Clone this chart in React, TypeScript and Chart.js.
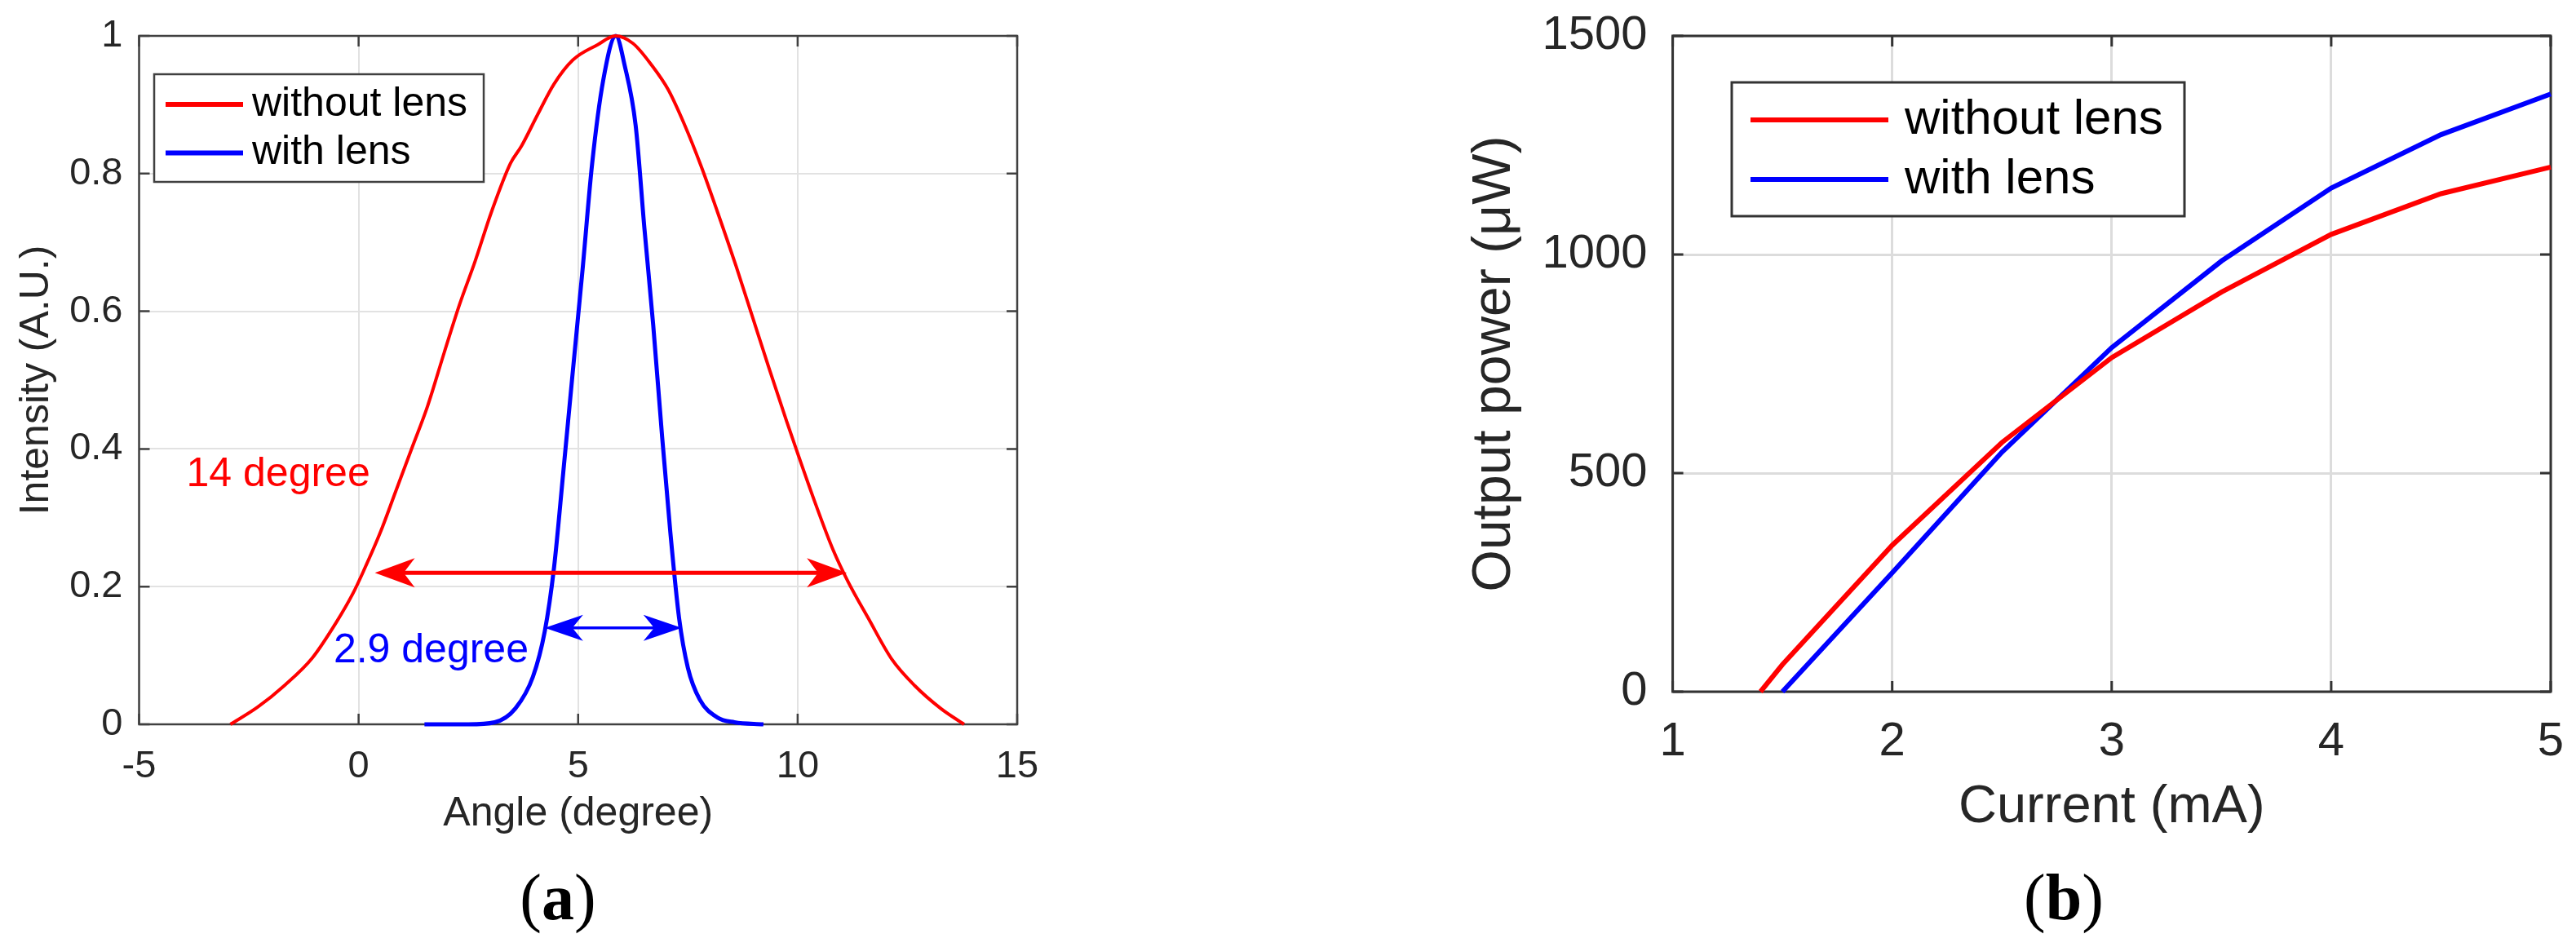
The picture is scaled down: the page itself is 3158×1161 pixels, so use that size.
import React, { useEffect, useRef } from "react";
import { Chart, registerables } from "chart.js";

Chart.register(...registerables);

// ---------------- Panel (a): angular intensity profile ----------------
const angleWithoutLens = [-2.92, -2.3, -1.68, -1.06, -0.51, -0.13, 0.115, 0.49, 0.86, 1.23, 1.57, 1.95, 2.3, 2.65, 3.03, 3.46, 3.71, 4.08, 4.45, 4.88, 5.44, 5.85, 6.25, 6.68, 7.05, 7.43, 7.8, 8.17, 8.6, 8.96, 9.36, 9.75, 10.02, 10.42, 10.81, 11.15, 11.61, 12.14, 12.67, 13.26, 13.79];
const intensityWithoutLens = [0, 0.025, 0.057, 0.096, 0.148, 0.19, 0.223, 0.278, 0.341, 0.404, 0.462, 0.54, 0.61, 0.672, 0.745, 0.815, 0.84, 0.886, 0.93, 0.965, 0.987, 1.0, 0.989, 0.957, 0.922, 0.87, 0.811, 0.745, 0.665, 0.594, 0.515, 0.44, 0.39, 0.318, 0.253, 0.207, 0.154, 0.095, 0.056, 0.023, 0];
const angleWithLens = [1.5, 2.5, 3.1, 3.57, 3.97, 4.24, 4.45, 4.66, 4.86, 5.1, 5.32, 5.57, 5.86, 6.06, 6.31, 6.51, 6.71, 6.91, 7.1, 7.3, 7.5, 7.77, 8.17, 8.56, 9.22];
const intensityWithLens = [0, 0, 0.003, 0.023, 0.069, 0.135, 0.227, 0.365, 0.5, 0.66, 0.815, 0.935, 1.0, 0.957, 0.87, 0.72, 0.58, 0.42, 0.279, 0.154, 0.082, 0.036, 0.01, 0.003, 0];
const angleTicks = [-5, 0, 5, 10, 15];
const intensityTicks = [0, 0.2, 0.4, 0.6, 0.8, 1];

// FWHM annotations (data coordinates)
const fwhmWithoutLens = { label: "14 degree", y: 0.22, from: 0.37, to: 11.12, labelX: -1.83, labelY: 0.346 };
const fwhmWithLens = { label: "2.9 degree", y: 0.14, from: 4.24, to: 7.36, labelX: 1.65, labelY: 0.09 };

// ---------------- Panel (b): L-I curve ----------------
const currentWithoutLens = [1.4, 1.5, 2, 2.5, 3, 3.5, 4, 4.5, 5];
const powerWithoutLens = [0, 62, 335, 570, 764, 914, 1046, 1139, 1200];
const currentWithLens = [1.5, 2, 2.5, 3, 3.5, 4, 4.5, 5];
const powerWithLens = [0, 272, 548, 787, 985, 1152, 1274, 1367];
const currentTicks = [1, 2, 3, 4, 5];
const powerTicks = [0, 500, 1000, 1500];

const seriesLabels = ["without lens", "with lens"];

// ---------------- styles ----------------
const RED = "#ff0000";
const BLUE = "#0000ff";
const FONT = "'Liberation Sans', Arial, Helvetica, sans-serif";
const TEXT = "#262626";

const toPoints = (xs: number[], ys: number[]) => xs.map((x, i) => ({ x, y: ys[i] }));

const fixedTicks = (values: number[]) => (scale: any) => {
  scale.ticks = values.map((v) => ({ value: v }));
};

const fitSize = (prop: "width" | "height", size: number) => (s: any) => {
  s[prop] = size;
  s.paddingTop = 0;
  s.paddingBottom = 0;
  s.paddingLeft = 0;
  s.paddingRight = 0;
};

const framePlugin = {
  id: "frame",
  beforeDatasetsDraw(chart: any, _a: any, o: any) {
    const { ctx, chartArea } = chart;
    const { left, right, top, bottom } = chartArea;
    const xs = chart.scales.x;
    const ys = chart.scales.y;
    ctx.save();
    ctx.strokeStyle = o.color;
    ctx.lineWidth = o.width;
    ctx.beginPath();
    for (const t of xs.ticks) {
      const px = xs.getPixelForValue(t.value);
      ctx.moveTo(px, bottom);
      ctx.lineTo(px, bottom - o.tickLen);
      ctx.moveTo(px, top);
      ctx.lineTo(px, top + o.tickLen);
    }
    for (const t of ys.ticks) {
      const py = ys.getPixelForValue(t.value);
      ctx.moveTo(left, py);
      ctx.lineTo(left + o.tickLen, py);
      ctx.moveTo(right, py);
      ctx.lineTo(right - o.tickLen, py);
    }
    ctx.stroke();
    ctx.strokeRect(left, top, right - left, bottom - top);
    ctx.restore();
  },
};

const boxLegendPlugin = {
  id: "boxLegend",
  afterDatasetsDraw(chart: any, _a: any, o: any) {
    const { ctx, chartArea } = chart;
    const x0 = chartArea.left + o.dx;
    const y0 = chartArea.top + o.dy;
    ctx.save();
    ctx.fillStyle = "#ffffff";
    ctx.fillRect(x0, y0, o.w, o.h);
    ctx.strokeStyle = o.border;
    ctx.lineWidth = o.borderWidth;
    ctx.strokeRect(x0, y0, o.w, o.h);
    ctx.font = `${o.fontSize}px ${FONT}`;
    ctx.textBaseline = "middle";
    ctx.textAlign = "left";
    chart.data.datasets.forEach((ds: any, i: number) => {
      const y = y0 + o.rows[i];
      ctx.strokeStyle = ds.borderColor;
      ctx.lineWidth = o.sampleWidth;
      ctx.beginPath();
      ctx.moveTo(x0 + o.lineX0, y);
      ctx.lineTo(x0 + o.lineX1, y);
      ctx.stroke();
      ctx.fillStyle = "#000000";
      ctx.fillText(ds.label, x0 + o.textX, y);
    });
    ctx.restore();
  },
};

function drawHead(ctx: CanvasRenderingContext2D, tipX: number, y: number, dir: number, L: number, W: number) {
  ctx.beginPath();
  ctx.moveTo(tipX, y);
  ctx.lineTo(tipX - dir * L, y - W);
  ctx.lineTo(tipX - dir * L * 0.72, y);
  ctx.lineTo(tipX - dir * L, y + W);
  ctx.closePath();
  ctx.fill();
}

const fwhmPlugin = {
  id: "fwhm",
  afterDatasetsDraw(chart: any, _a: any, o: any) {
    const { ctx } = chart;
    const xs = chart.scales.x;
    const ys = chart.scales.y;
    ctx.save();
    for (const a of o.items) {
      const y = ys.getPixelForValue(a.data.y);
      const x1 = xs.getPixelForValue(a.data.from);
      const x2 = xs.getPixelForValue(a.data.to);
      ctx.strokeStyle = a.color;
      ctx.fillStyle = a.color;
      ctx.lineWidth = a.shaft;
      ctx.beginPath();
      ctx.moveTo(x1 + a.headL * 0.7, y);
      ctx.lineTo(x2 - a.headL * 0.7, y);
      ctx.stroke();
      drawHead(ctx, x1, y, -1, a.headL, a.headW);
      drawHead(ctx, x2, y, 1, a.headL, a.headW);
      ctx.font = `${o.fontSize}px ${FONT}`;
      ctx.textAlign = "center";
      ctx.textBaseline = "alphabetic";
      ctx.fillText(a.data.label, xs.getPixelForValue(a.data.labelX), ys.getPixelForValue(a.data.labelY));
    }
    ctx.restore();
  },
};

function PanelA() {
  const ref = useRef<HTMLCanvasElement>(null);
  useEffect(() => {
    if (!ref.current) return;
    const chart = new Chart(ref.current, {
      type: "scatter",
      data: {
        datasets: [
          {
            label: seriesLabels[0],
            data: toPoints(angleWithoutLens, intensityWithoutLens),
            showLine: true,
            borderColor: RED,
            backgroundColor: RED,
            borderWidth: 4,
            pointRadius: 0,
            cubicInterpolationMode: "monotone",
            clip: false,
          } as any,
          {
            label: seriesLabels[1],
            data: toPoints(angleWithLens, intensityWithLens),
            showLine: true,
            borderColor: BLUE,
            backgroundColor: BLUE,
            borderWidth: 5,
            pointRadius: 0,
            cubicInterpolationMode: "monotone",
            clip: false,
          } as any,
        ],
      },
      options: {
        responsive: false,
        animation: false,
        events: [],
        layout: { padding: { left: 0, top: 44, right: 53, bottom: 0 } },
        scales: {
          x: {
            type: "linear",
            position: "bottom",
            min: -5,
            max: 15,
            afterBuildTicks: fixedTicks(angleTicks),
            afterFit: fitSize("height", 172),
            grid: { color: "#e2e2e2", lineWidth: 2, drawTicks: false },
            border: { display: false },
            ticks: {
              padding: 24,
              color: TEXT,
              autoSkip: false,
              maxRotation: 0,
              font: { family: FONT, size: 47, lineHeight: 1.2 },
              callback: (v: any) => String(v),
            },
            title: {
              display: true,
              text: "Angle (degree)",
              color: TEXT,
              font: { family: FONT, size: 50, lineHeight: 1.2 },
              padding: { top: 0, bottom: 32 },
            },
          },
          y: {
            type: "linear",
            position: "left",
            min: 0,
            max: 1,
            afterBuildTicks: fixedTicks(intensityTicks),
            afterFit: fitSize("width", 170.5),
            grid: { color: "#e2e2e2", lineWidth: 2, drawTicks: false },
            border: { display: false },
            ticks: {
              padding: 20,
              color: TEXT,
              autoSkip: false,
              font: { family: FONT, size: 47, lineHeight: 1.2 },
              callback: (v: any) => String(v),
            },
            title: {
              display: true,
              text: "Intensity (A.U.)",
              color: TEXT,
              font: { family: FONT, size: 50, lineHeight: 1.2 },
              padding: { top: 15, bottom: 0 },
            },
          },
        },
        plugins: {
          legend: { display: false },
          tooltip: { enabled: false },
          frame: { color: "#404040", width: 2.5, tickLen: 13 },
          boxLegend: {
            dx: 18.5, dy: 47, w: 404, h: 132, border: "#404040", borderWidth: 2.5,
            fontSize: 50, rows: [37, 96.5], lineX0: 14, lineX1: 109, textX: 120, sampleWidth: 6,
          },
          fwhm: {
            fontSize: 50,
            items: [
              { data: fwhmWithoutLens, color: RED, shaft: 5, headL: 49, headW: 18 },
              { data: fwhmWithLens, color: BLUE, shaft: 3.5, headL: 47, headW: 16 },
            ],
          },
        } as any,
      },
      plugins: [framePlugin, fwhmPlugin, boxLegendPlugin],
    });
    return () => chart.destroy();
  }, []);
  return (
    <canvas
      ref={ref}
      width={1300}
      height={1060}
      style={{ position: "absolute", left: 0, top: 0, width: 1300, height: 1060 }}
    />
  );
}

function PanelB() {
  const ref = useRef<HTMLCanvasElement>(null);
  useEffect(() => {
    if (!ref.current) return;
    const chart = new Chart(ref.current, {
      type: "scatter",
      data: {
        datasets: [
          {
            label: seriesLabels[0],
            data: toPoints(currentWithoutLens, powerWithoutLens),
            showLine: true,
            borderColor: RED,
            backgroundColor: RED,
            borderWidth: 6,
            pointRadius: 0,
            tension: 0,
            clip: false,
          } as any,
          {
            label: seriesLabels[1],
            data: toPoints(currentWithLens, powerWithLens),
            showLine: true,
            borderColor: BLUE,
            backgroundColor: BLUE,
            borderWidth: 6,
            pointRadius: 0,
            tension: 0,
            clip: false,
          } as any,
        ],
      },
      options: {
        responsive: false,
        animation: false,
        events: [],
        layout: { padding: { left: 0, top: 44, right: 31, bottom: 0 } },
        scales: {
          x: {
            type: "linear",
            position: "bottom",
            min: 1,
            max: 5,
            afterBuildTicks: fixedTicks(currentTicks),
            afterFit: fitSize("height", 212),
            grid: { color: "#dcdcdc", lineWidth: 3, drawTicks: false },
            border: { display: false },
            ticks: {
              padding: 27,
              color: TEXT,
              autoSkip: false,
              maxRotation: 0,
              font: { family: FONT, size: 58, lineHeight: 1.2 },
              callback: (v: any) => String(v),
            },
            title: {
              display: true,
              text: "Current (mA)",
              color: TEXT,
              font: { family: FONT, size: 65, lineHeight: 1.2 },
              padding: { top: 0, bottom: 31 },
            },
          },
          y: {
            type: "linear",
            position: "left",
            min: 0,
            max: 1500,
            afterBuildTicks: fixedTicks(powerTicks),
            afterFit: fitSize("width", 350.6),
            grid: { color: "#dcdcdc", lineWidth: 3, drawTicks: false },
            border: { display: false },
            ticks: {
              padding: 31,
              color: TEXT,
              autoSkip: false,
              font: { family: FONT, size: 58, lineHeight: 1.2 },
              callback: (v: any) => String(v),
            },
            title: {
              display: true,
              text: "Output power (μW)",
              color: TEXT,
              font: { family: FONT, size: 66, lineHeight: 1.2 },
              padding: { top: 93, bottom: 0 },
            },
          },
        },
        plugins: {
          legend: { display: false },
          tooltip: { enabled: false },
          frame: { color: "#333333", width: 3, tickLen: 13 },
          boxLegend: {
            dx: 72.4, dy: 57, w: 555, h: 164, border: "#333333", borderWidth: 3,
            fontSize: 60, rows: [46, 119], lineX0: 23, lineX1: 192, textX: 212, sampleWidth: 6,
          },
        } as any,
      },
      plugins: [framePlugin, boxLegendPlugin],
    });
    return () => chart.destroy();
  }, []);
  return (
    <canvas
      ref={ref}
      width={1458}
      height={1060}
      style={{ position: "absolute", left: 1700, top: 0, width: 1458, height: 1060 }}
    />
  );
}

const captionStyle: React.CSSProperties = {
  position: "absolute",
  width: 300,
  top: 1060,
  textAlign: "center",
  fontFamily: "'Liberation Serif', 'Times New Roman', serif",
  fontSize: 80,
  lineHeight: "80px",
  color: "#000000",
};

export default function App() {
  return (
    <div
      style={{
        position: "absolute",
        left: 0,
        top: 0,
        width: 3158,
        height: 1161,
        background: "#ffffff",
        overflow: "hidden",
      }}
    >
      <PanelA />
      <PanelB />
      <div style={{ ...captionStyle, left: 684 - 150 }}>
        (<b>a</b>)
      </div>
      <div style={{ ...captionStyle, left: 2530 - 150 }}>
        (<b>b</b>)
      </div>
    </div>
  );
}
